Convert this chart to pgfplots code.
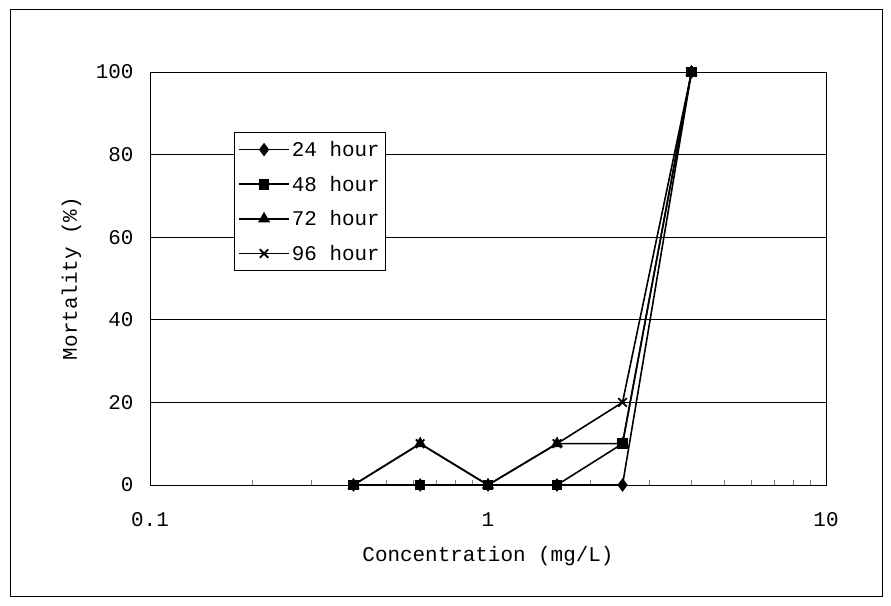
\documentclass[border=0pt]{standalone}
\usepackage{pgfplots}
\pgfplotsset{compat=1.18}
\usepackage{fontspec}
\setmainfont{Liberation Mono}
\begin{document}
\begin{tikzpicture}[x=1bp,y=1bp]
\useasboundingbox (0,0) rectangle (891,606);
\draw[line width=1bp] (10,9) rectangle (882,596);
\begin{axis}[
  at={(150bp,121bp)}, anchor=south west,
  scale only axis, width=676bp, height=413bp,
  xmode=log, xmin=0.1, xmax=10, ymin=0, ymax=100,
  log ticks with fixed point,
  xtick={0.1,1,10}, xticklabels={0.1,1,10},
  ytick={0,20,...,100},
  ymajorgrids, grid style={black, line width=0.9bp},
  axis line style={black, line width=0.9bp},
  xtick pos=bottom, ytick pos=left,
  xtick align=inside, ytick style={draw=none},
  minor x tick num=8,
  major tick length=6bp, minor tick length=5bp,
  every tick label/.append style={font=\fontsize{21}{21}\selectfont},
  /pgf/number format/assume math mode=true,
  xticklabel style={yshift=-24bp},
  yticklabel style={xshift=-13bp, anchor=east},
  xlabel={Concentration (mg/L)}, ylabel={Mortality (\%)},
  label style={font=\fontsize{21}{21}\selectfont},
  xlabel style={at={(axis description cs:0.5,-0.172)}, anchor=center},
  ylabel style={at={(axis description cs:-0.116,0.5)}, anchor=center},
  legend style={at={(0.124,0.855)}, anchor=north west, draw=black, line width=0.9bp,
    font=\fontsize{21}{21}\selectfont, row sep=14bp, inner xsep=4bp, inner ysep=7bp},
  legend cell align=left,
  legend image code/.code={\draw[mark repeat=2, mark phase=2, line width=1.6bp, #1] plot coordinates {(0bp,0bp) (25bp,0bp) (50bp,0bp)};},
  every axis plot/.append style={black, line width=1.6bp, mark options={solid, fill=black}},
]
\addplot[mark=diamond*, mark size=5.5bp] coordinates {(0.4,0) (0.63,0) (1,0) (1.6,0) (2.5,0) (4,100)};
\addlegendentry{24 hour}
\addplot[mark=square*, mark size=4.5bp] coordinates {(0.4,0) (0.63,0) (1,0) (1.6,0) (2.5,10) (4,100)};
\addlegendentry{48 hour}
\addplot[mark=triangle*, mark size=5.5bp] coordinates {(0.4,0) (0.63,10) (1,0) (1.6,10) (2.5,10) (4,100)};
\addlegendentry{72 hour}
\addplot[mark=x, mark size=6bp, mark options={line width=1.8bp}] coordinates {(0.4,0) (0.63,10) (1,0) (1.6,10) (2.5,20) (4,100)};
\addlegendentry{96 hour}
\end{axis}
\end{tikzpicture}
\end{document}
